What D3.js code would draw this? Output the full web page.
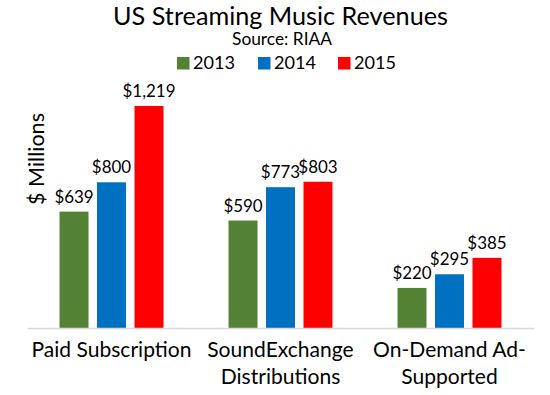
<!DOCTYPE html>
<html>
<head>
<meta charset="utf-8">
<script src="https://cdn.jsdelivr.net/npm/d3@7"></script>
<style>
  html, body { margin: 0; padding: 0; background: #fff; }
  svg { display: block; font-family: Lato, "Open Sans", sans-serif; }
</style>
</head>
<body>
<svg id="chart" width="550" height="395"></svg>
<script>
const categories = ["Paid Subscription", "SoundExchange Distributions", "On-Demand Ad-Supported"];
const categoryLines = [["Paid Subscription"], ["SoundExchange", "Distributions"], ["On-Demand Ad-", "Supported"]];
const years = ["2013", "2014", "2015"];
const values2013 = [639, 590, 220];
const values2014 = [800, 773, 295];
const values2015 = [1219, 803, 385];
const colors = ["#548235", "#0070C0", "#FF0000"];

const seriesValues = [values2013, values2014, values2015];
const data = categories.map((c, i) => ({
  category: c,
  values: years.map((y, j) => ({ year: y, value: seriesValues[j][i], color: colors[j] }))
}));

const svg = d3.select("#chart");

// size a text so that its width matches the reference; returns the font size
function fitSize(text, targetWidth, base = 20) {
  const t = svg.append("text").attr("font-size", base).attr("x", -1000).text(text);
  const w = t.node().getComputedTextLength();
  t.remove();
  return w > 0 ? base * targetWidth / w : base;
}

const x0 = d3.scaleBand().domain(categories).range([27, 534]).paddingInner(0.385).paddingOuter(0.1925);
const x1 = d3.scaleBand().domain(years).range([0, x0.bandwidth()]).paddingInner(0.227).paddingOuter(0);
const y = d3.scaleLinear().domain([0, 1400]).range([328, 73]);

// Title
svg.append("text").attr("x", 280.5).attr("y", 25).attr("text-anchor", "middle")
  .attr("font-size", fitSize("US Streaming Music Revenues", 335)).attr("fill", "#000").text("US Streaming Music Revenues");
svg.append("text").attr("x", 282).attr("y", 45).attr("text-anchor", "middle")
  .attr("font-size", fitSize("Source: RIAA", 100)).attr("fill", "#000").text("Source: RIAA");

// Legend
const legendSize = fitSize("2013", 42);
const legendX = [177, 258, 338];
const legend = svg.append("g");
years.forEach((yr, j) => {
  legend.append("rect").attr("x", legendX[j]).attr("y", 57).attr("width", 12.5).attr("height", 12.5).attr("fill", colors[j]);
  legend.append("text").attr("x", legendX[j] + 16).attr("y", 69).attr("font-size", legendSize).attr("fill", "#000").text(yr);
});

// Y axis title
svg.append("text").attr("transform", "translate(44,159) rotate(-90)").attr("text-anchor", "middle")
  .attr("font-size", fitSize("$ Millions", 92)).attr("fill", "#000").text("$ Millions");

// Bars
const labelSize = fitSize("$1,219", 53);
const groups = svg.append("g").selectAll("g").data(data).join("g")
  .attr("transform", d => `translate(${x0(d.category)},0)`);

groups.selectAll("rect").data(d => d.values).join("rect")
  .attr("x", d => x1(d.year))
  .attr("y", d => y(d.value))
  .attr("width", x1.bandwidth())
  .attr("height", d => y(0) - y(d.value))
  .attr("fill", d => d.color);

groups.selectAll("text.lbl").data(d => d.values).join("text")
  .attr("class", "lbl")
  .attr("x", d => x1(d.year) + x1.bandwidth() / 2)
  .attr("y", d => y(d.value) - 9)
  .attr("text-anchor", "middle")
  .attr("font-size", labelSize)
  .attr("fill", "#000")
  .text(d => "$" + d3.format(",")(d.value));

// Axis line
const xAxis = d3.axisBottom(x0).tickSize(0).tickFormat("");
const axisG = svg.append("g").attr("transform", `translate(0,${y(0)})`).call(xAxis);
axisG.select(".domain").attr("stroke", "#d9d9d9").attr("stroke-width", 1.5);

// Category labels
const catSize = fitSize("Paid Subscription", 160);
categories.forEach((c, i) => {
  const t = svg.append("text").attr("text-anchor", "middle").attr("font-size", catSize).attr("fill", "#000");
  categoryLines[i].forEach((line, k) => {
    t.append("tspan").attr("x", x0(c) + x0.bandwidth() / 2).attr("y", 357 + k * 27).text(line);
  });
});
</script>
</body>
</html>
